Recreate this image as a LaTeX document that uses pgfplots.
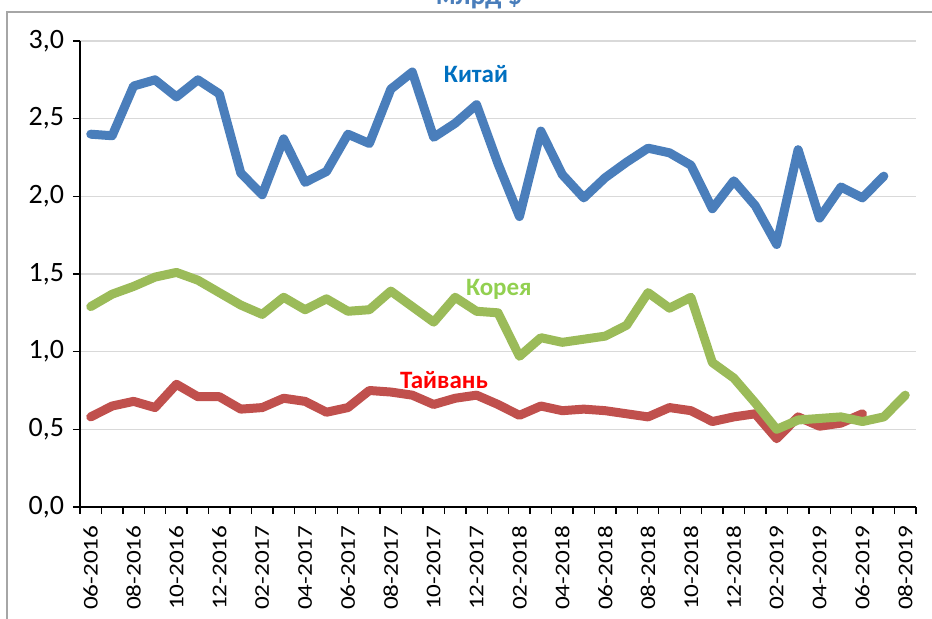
\documentclass[border=0pt]{standalone}
\usepackage{pgfplots}
\pgfplotsset{compat=1.18}
\usepackage{fontspec}
\setmainfont{Carlito}
\definecolor{cblue}{HTML}{4A7EBB}
\definecolor{cred}{HTML}{C0504D}
\definecolor{cgreen}{HTML}{9BBB59}
\definecolor{tblue}{HTML}{0070C0}
\definecolor{tgreen}{HTML}{92D050}
\definecolor{tred}{HTML}{FF0000}
\definecolor{titleblue}{HTML}{4A7EBB}
\begin{document}
\begin{tikzpicture}[x=1pt,y=1pt]
\draw[color=black!35, line width=0.6pt] (3.5,-20) -- (3.5,303.5) -- (490,303.5);
\node[anchor=base, font=\bfseries\fontsize{14}{14}\selectfont, text=titleblue] at (239.5,307) {млрд \$};
\begin{axis}[
  at={(40pt,56pt)}, anchor=origin,
  scale only axis, width=418pt, height=233pt,
  xmin=0, xmax=39, ymin=0, ymax=3,
  axis x line=bottom, axis y line=left,
  axis line style={-, black, line width=0.8pt},
  ytick={0,0.5,1,1.5,2,2.5,3},
  yticklabels={{0,0},{0,5},{1,0},{1,5},{2,0},{2,5},{3,0}},
  yticklabel style={font=\fontsize{14}{14}\selectfont, xshift=-1pt},
  xtick={0,1,...,39},
  xticklabels={},
  extra x ticks={0.5,2.5,...,38.5},
  extra x tick labels={06-2016,08-2016,10-2016,12-2016,02-2017,04-2017,06-2017,08-2017,10-2017,12-2017,02-2018,04-2018,06-2018,08-2018,10-2018,12-2018,02-2019,04-2019,06-2019,08-2019},
  extra x tick style={major tick length=0pt, grid=none,
    xticklabel style={rotate=90, anchor=east, font={\fontsize{10.5}{10.5}\selectfont}, xshift=-5pt, xscale=1.2}},
  tick align=outside,
  major tick length=3.5pt,
  tick style={black, line width=0.7pt},
  ymajorgrids,
  grid style={color=black!15, line width=0.8pt},
  every axis plot/.append style={line width=4.5pt, line join=round, line cap=round},
  clip=false,
]
\addplot[cred] coordinates {
(0.5,0.58) (1.5,0.65) (2.5,0.68) (3.5,0.64) (4.5,0.79) (5.5,0.71) (6.5,0.71) (7.5,0.63) (8.5,0.64) (9.5,0.70)
(10.5,0.68) (11.5,0.61) (12.5,0.64) (13.5,0.75) (14.5,0.74) (15.5,0.72) (16.5,0.66) (17.5,0.70) (18.5,0.72) (19.5,0.66)
(20.5,0.59) (21.5,0.65) (22.5,0.62) (23.5,0.63) (24.5,0.62) (25.5,0.60) (26.5,0.58) (27.5,0.64) (28.5,0.62) (29.5,0.55)
(30.5,0.58) (31.5,0.60) (32.5,0.44) (33.5,0.58) (34.5,0.52) (35.5,0.54) (36.5,0.60)
};
\addplot[cgreen] coordinates {
(0.5,1.29) (1.5,1.37) (2.5,1.42) (3.5,1.48) (4.5,1.51) (5.5,1.46) (6.5,1.38) (7.5,1.30) (8.5,1.24) (9.5,1.35)
(10.5,1.27) (11.5,1.34) (12.5,1.26) (13.5,1.27) (14.5,1.39) (15.5,1.29) (16.5,1.19) (17.5,1.35) (18.5,1.26) (19.5,1.25)
(20.5,0.97) (21.5,1.09) (22.5,1.06) (23.5,1.08) (24.5,1.10) (25.5,1.17) (26.5,1.38) (27.5,1.28) (28.5,1.35) (29.5,0.93)
(30.5,0.83) (31.5,0.67) (32.5,0.50) (33.5,0.56) (34.5,0.57) (35.5,0.58) (36.5,0.55) (37.5,0.58) (38.5,0.72)
};
\addplot[cblue] coordinates {
(0.5,2.40) (1.5,2.39) (2.5,2.71) (3.5,2.75) (4.5,2.64) (5.5,2.75) (6.5,2.66) (7.5,2.15) (8.5,2.01) (9.5,2.37)
(10.5,2.09) (11.5,2.16) (12.5,2.40) (13.5,2.34) (14.5,2.69) (15.5,2.80) (16.5,2.38) (17.5,2.47) (18.5,2.59) (19.5,2.21)
(20.5,1.87) (21.5,2.42) (22.5,2.14) (23.5,1.99) (24.5,2.12) (25.5,2.22) (26.5,2.31) (27.5,2.28) (28.5,2.20) (29.5,1.92)
(30.5,2.10) (31.5,1.94) (32.5,1.69) (33.5,2.30) (34.5,1.86) (35.5,2.06) (36.5,1.99) (37.5,2.13)
};
\node[text=tblue, font=\bfseries\fontsize{12.5}{12.5}\selectfont] at (axis cs:18.47,2.79) {Китай};
\node[text=tgreen, font=\bfseries\fontsize{12.5}{12.5}\selectfont] at (axis cs:19.54,1.40) {Корея};
\node[text=tred, font=\bfseries\fontsize{12.5}{12.5}\selectfont] at (axis cs:16.98,0.82) {Тайвань};
\end{axis}
\pgfresetboundingbox
\useasboundingbox (0,0) rectangle (466,309.5);
\end{tikzpicture}
\end{document}
